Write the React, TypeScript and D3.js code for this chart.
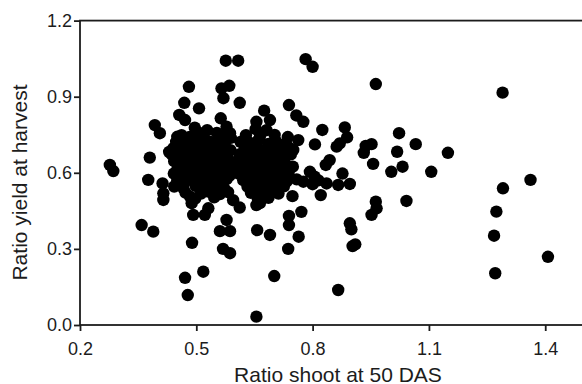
import React, {useRef, useEffect} from 'react'
import * as d3 from 'd3'

// scattered genotypes
const outerPoints: [number, number][] = [
  [0.277, 0.631], [0.286, 0.607], [0.359, 0.394], [0.389, 0.368], [0.376, 0.572],
  [0.380, 0.660], [0.393, 0.788], [0.406, 0.756], [0.413, 0.558], [0.415, 0.519],
  [0.415, 0.493], [0.430, 0.682],
  [0.481, 0.939], [0.469, 0.876], [0.507, 0.854], [0.456, 0.828], [0.471, 0.808],
  [0.496, 0.778], [0.451, 0.742], [0.565, 0.933], [0.585, 0.943], [0.570, 0.894],
  [0.612, 0.876], [0.576, 1.042], [0.608, 1.042], [0.563, 0.815], [0.578, 0.782],
  [0.587, 0.756],
  [0.489, 0.324], [0.518, 0.210], [0.471, 0.186], [0.478, 0.118], [0.561, 0.370],
  [0.587, 0.370], [0.578, 0.414], [0.569, 0.300], [0.587, 0.283], [0.488, 0.480],
  [0.492, 0.434], [0.522, 0.434], [0.531, 0.460], [0.484, 0.506], [0.612, 0.463],
  [0.595, 0.492],
  [0.655, 0.033], [0.657, 0.374], [0.690, 0.355], [0.701, 0.193], [0.664, 0.480],
  [0.655, 0.473],
  [0.655, 0.801], [0.675, 0.845], [0.690, 0.808], [0.739, 0.867], [0.758, 0.826],
  [0.776, 0.801], [0.782, 1.048], [0.800, 1.018], [0.963, 0.950],
  [0.737, 0.300], [0.764, 0.348], [0.739, 0.394], [0.739, 0.430], [0.771, 0.446],
  [0.748, 0.508], [0.821, 0.512], [0.708, 0.525],
  [0.825, 0.769], [0.806, 0.712], [0.763, 0.729], [0.883, 0.779], [0.889, 0.740],
  [0.862, 0.703], [0.870, 0.716], [0.750, 0.690],
  [0.834, 0.631], [0.844, 0.650], [0.793, 0.604], [0.836, 0.558], [0.866, 0.552],
  [0.896, 0.556], [0.877, 0.597], [0.776, 0.565], [0.805, 0.585], [0.815, 0.570],
  [0.800, 0.555],
  [0.866, 0.138], [0.896, 0.401], [0.900, 0.377], [0.903, 0.311], [0.910, 0.318],
  [0.937, 0.706], [0.952, 0.713], [0.932, 0.679], [0.956, 0.635], [0.963, 0.486],
  [0.965, 0.460], [0.952, 0.434],
  [1.003, 0.604], [1.023, 0.756], [1.018, 0.683], [1.032, 0.624], [1.042, 0.489],
  [1.066, 0.713], [1.106, 0.604], [1.149, 0.679],
  [1.290, 0.916], [1.291, 0.539], [1.274, 0.447], [1.268, 0.352], [1.271, 0.204],
  [1.362, 0.572], [1.407, 0.269]
]

// the dense blob, left half
const leftClump: [number, number][] = [
  [0.502, 0.762], [0.528, 0.768], [0.553, 0.757],
  [0.462, 0.748], [0.483, 0.741], [0.517, 0.747], [0.568, 0.744], [0.589, 0.738],
  [0.448, 0.722], [0.471, 0.718], [0.492, 0.726], [0.511, 0.716], [0.533, 0.724], [0.552, 0.715], [0.574, 0.721],
  [0.441, 0.697], [0.459, 0.691], [0.486, 0.699], [0.507, 0.688], [0.524, 0.701], [0.546, 0.692], [0.566, 0.698], [0.588, 0.689],
  [0.437, 0.672], [0.456, 0.668], [0.476, 0.675], [0.497, 0.664], [0.519, 0.671], [0.541, 0.666], [0.561, 0.674], [0.579, 0.663],
  [0.443, 0.646], [0.461, 0.641], [0.482, 0.649], [0.501, 0.638], [0.516, 0.647], [0.537, 0.643], [0.554, 0.636], [0.576, 0.648], [0.594, 0.641],
  [0.452, 0.617], [0.471, 0.624], [0.489, 0.613], [0.512, 0.622], [0.529, 0.616], [0.551, 0.625], [0.569, 0.614], [0.591, 0.619],
  [0.442, 0.597], [0.463, 0.591], [0.481, 0.599], [0.506, 0.588], [0.524, 0.596], [0.547, 0.592], [0.563, 0.601], [0.586, 0.589],
  [0.451, 0.571], [0.472, 0.566], [0.493, 0.574], [0.509, 0.563], [0.536, 0.571], [0.557, 0.566], [0.578, 0.575],
  [0.443, 0.546], [0.466, 0.541], [0.498, 0.548], [0.521, 0.538], [0.546, 0.547], [0.571, 0.541],
  [0.472, 0.522], [0.512, 0.518], [0.531, 0.526], [0.561, 0.516], [0.582, 0.524],
  [0.497, 0.498], [0.546, 0.503]
]

// the dense blob, right half
const rightClump: [number, number][] = [
  [0.653, 0.772], [0.681, 0.768],
  [0.628, 0.748], [0.664, 0.743], [0.702, 0.749], [0.736, 0.741],
  [0.614, 0.722], [0.641, 0.717], [0.659, 0.726], [0.686, 0.714], [0.706, 0.723], [0.731, 0.716],
  [0.624, 0.691], [0.648, 0.699], [0.671, 0.688], [0.692, 0.697], [0.716, 0.692], [0.739, 0.699],
  [0.611, 0.672], [0.636, 0.666], [0.656, 0.674], [0.679, 0.663], [0.701, 0.671], [0.721, 0.667], [0.744, 0.673],
  [0.606, 0.646], [0.626, 0.641], [0.644, 0.649], [0.667, 0.638], [0.689, 0.647], [0.711, 0.642], [0.729, 0.636],
  [0.616, 0.621], [0.639, 0.617], [0.661, 0.625], [0.679, 0.614], [0.701, 0.622], [0.724, 0.616], [0.749, 0.624],
  [0.609, 0.597], [0.631, 0.591], [0.654, 0.599], [0.676, 0.588], [0.696, 0.596], [0.719, 0.591], [0.738, 0.601],
  [0.621, 0.571], [0.646, 0.566], [0.664, 0.574], [0.691, 0.563], [0.709, 0.572], [0.733, 0.566], [0.759, 0.574],
  [0.632, 0.546], [0.654, 0.541], [0.682, 0.548], [0.701, 0.539], [0.726, 0.547],
  [0.641, 0.521], [0.668, 0.516], [0.692, 0.524], [0.712, 0.518],
  [0.659, 0.496], [0.686, 0.501]
]

const xTicks = [0.2, 0.5, 0.8, 1.1, 1.4]
const yTicks = [0.0, 0.3, 0.6, 0.9, 1.2]

const W = 582
const H = 384
const margin = {top: 20.6, right: -2, bottom: 59, left: 80}
const font = 'Liberation Sans, Arial, Helvetica, sans-serif'
const ink = '#1c1c1c'

export default function App() {
  const ref = useRef<SVGSVGElement>(null)

  useEffect(() => {
    const svg = d3.select(ref.current)
    svg.selectAll('*').remove()

    const x = d3.scaleLinear().domain([0.2, 1.5]).range([margin.left, W - margin.right])
    const y = d3.scaleLinear().domain([0, 1.2]).range([H - margin.bottom, margin.top])

    //frame round the plot
    svg
      .append('rect')
      .attr('x', x(0.2))
      .attr('y', y(1.2))
      .attr('width', x(1.5) - x(0.2))
      .attr('height', y(0) - y(1.2))
      .attr('fill', 'none')
      .attr('stroke', ink)
      .attr('stroke-width', 1.8)

    const all = [...outerPoints, ...leftClump, ...rightClump]
    svg
      .append('g')
      .selectAll('circle')
      .data(all)
      .enter()
      .append('circle')
      .attr('cx', d => x(d[0]))
      .attr('cy', d => y(d[1]))
      .attr('r', 6.2)
      .attr('fill', '#000')

    const xAxis = svg
      .append('g')
      .attr('transform', `translate(0,${y(0)})`)
      .call(
        d3.axisBottom(x).tickValues(xTicks).tickFormat(d3.format('.1f')).tickSize(6).tickSizeOuter(0).tickPadding(11)
      )
    const yAxis = svg
      .append('g')
      .attr('transform', `translate(${x(0.2)},0)`)
      .call(
        d3.axisLeft(y).tickValues(yTicks).tickFormat(d3.format('.1f')).tickSize(6).tickSizeOuter(0).tickPadding(2)
      )

    ;[xAxis, yAxis].forEach(a => {
      a.select('.domain').remove()
      a.selectAll('line').attr('stroke', ink).attr('stroke-width', 1.8)
      a.selectAll('text').attr('fill', ink).style('font-family', font).style('font-size', '18px')
    })

    svg
      .append('text')
      .attr('x', 338)
      .attr('y', 381.5)
      .attr('text-anchor', 'middle')
      .style('font-family', font)
      .style('font-size', '21px')
      .attr('fill', ink)
      .text('Ratio shoot at 50 DAS')

    svg
      .append('text')
      .attr('transform', 'translate(27,182.5) rotate(-90)')
      .attr('text-anchor', 'middle')
      .style('font-family', font)
      .style('font-size', '21px')
      .attr('fill', ink)
      .text('Ratio yield at harvest')
  }, [])

  return (
    <svg
      ref={ref}
      width={W}
      height={H}
      style={{position: 'absolute', left: 0, top: 0, background: '#fff'}}
    />
  )
}
